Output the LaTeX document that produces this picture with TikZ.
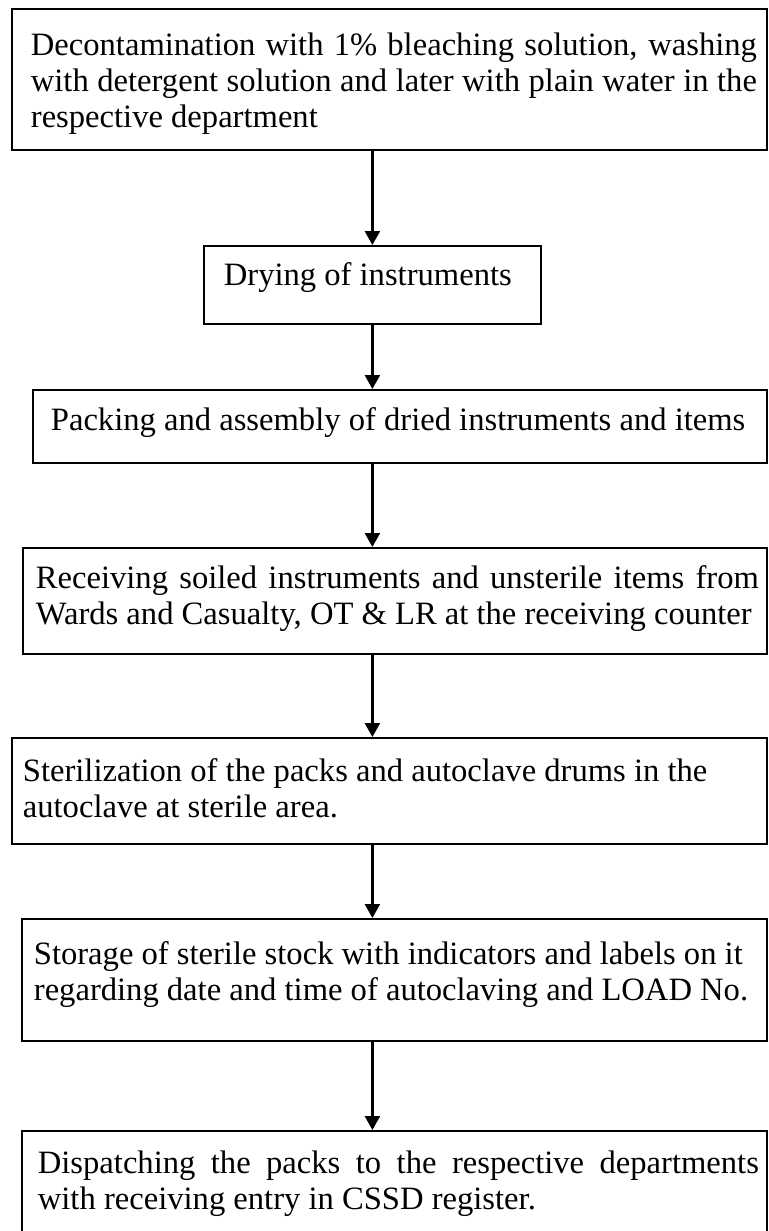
\documentclass[tikz,border=0pt]{standalone}
\usepackage{fontspec}
\setmainfont{Liberation Serif}
\usetikzlibrary{arrows.meta}

\newcommand{\steptext}[6]{\parbox[c][#2][t]{#1}{\leftskip=#3\relax\rightskip=#4\relax\rule{0pt}{#5}#6}}

\begin{document}
\begin{tikzpicture}[x=0.5pt,y=-0.5pt]
    \tikzstyle{stage}=[draw=black,line width=0.9pt,inner sep=0pt,anchor=north west,font=\fontsize{16.3pt}{18pt}\selectfont]
    \tikzstyle{fwd} = [draw=black, line width=1.2pt, -{Triangle[length=7pt,width=7.5pt]}]

    \useasboundingbox (0,0) rectangle (768,1231);

    \node[stage] (s1) at (11,8) {\steptext{377.5pt}{70.5pt}{9.5pt}{5pt}{23.5pt}{Decontamination with 1\% bleaching solution, washing\linebreak with detergent solution and later with plain water in the\linebreak respective department}};
    \node[stage] (s2) at (203,245) {\steptext{168.5pt}{39pt}{10pt}{0pt}{20pt}{Drying of instruments}};
    \node[stage] (s3) at (32,389) {\steptext{367pt}{36.5pt}{9pt}{0pt}{20.5pt}{Packing and assembly of dried instruments and items}};
    \node[stage] (s4) at (22,547) {\steptext{372pt}{53pt}{6.5pt}{4pt}{20.5pt}{Receiving soiled instruments and unsterile items from\linebreak Wards and Casualty, OT \& LR at the receiving counter}};
    \node[stage] (s5) at (11,737) {\steptext{377.5pt}{53pt}{5.5pt}{0pt}{22pt}{Sterilization of the packs and autoclave drums in the\\ autoclave at sterile area.}};
    \node[stage] (s6) at (21,918) {\steptext{372.5pt}{61pt}{6pt}{0pt}{23pt}{Storage of sterile stock with indicators and labels on it\\ regarding date and time of autoclaving and LOAD No.}};
    \node[stage] (s7) at (21,1130) {\steptext{372.5pt}{55pt}{8pt}{4pt}{21.5pt}{Dispatching the packs to the respective departments\linebreak with receiving entry in CSSD register.}};

   \draw [fwd] (s1.south -| s2.north) -- (s2.north);
   \draw [fwd] (s2.south) -- (s3.north -| s2.south);
   \draw [fwd] (s3.south -| s2.south) -- (s4.north -| s2.south);
   \draw [fwd] (s4.south -| s2.south) -- (s5.north -| s2.south);
   \draw [fwd] (s5.south -| s2.south) -- (s6.north -| s2.south);
   \draw [fwd] (s6.south -| s2.south) -- (s7.north -| s2.south);

\end{tikzpicture}
\end{document}
